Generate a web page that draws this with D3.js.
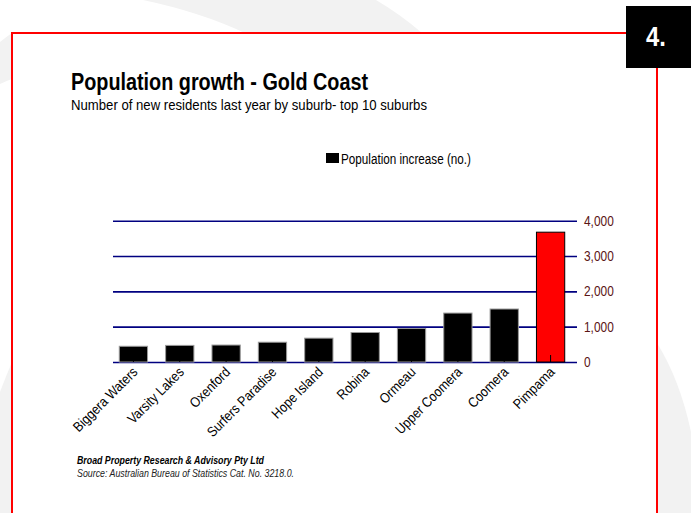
<!DOCTYPE html>
<html>
<head>
<meta charset="utf-8">
<script src="https://cdn.jsdelivr.net/npm/d3@7"></script>
<style>
  html, body { margin: 0; padding: 0; background: #fff; }
  svg { display: block; }
  text { font-family: "Liberation Sans Narrow", "Arial Narrow", "Liberation Sans", Arial, sans-serif; }
</style>
</head>
<body>
<svg id="chart" width="691" height="513"></svg>
<script>
const suburbs = ["Biggera Waters", "Varsity Lakes", "Oxenford", "Surfers Paradise", "Hope Island",
                 "Robina", "Ormeau", "Upper Coomera", "Coomera", "Pimpama"];
const populationIncrease = [445, 470, 480, 560, 675, 835, 950, 1385, 1500, 3675];
const yTicks = [0, 1000, 2000, 3000, 4000];
const highlight = "Pimpama";
const seriesName = "Population increase (no.)";
const titleText = "Population growth - Gold Coast";
const subtitleText = "Number of new residents last year by suburb- top 10 suburbs";
const footerBold = "Broad Property Research & Advisory Pty Ltd";
const footerSource = "Source: Australian Bureau of Statistics Cat. No. 3218.0.";
const pageNumber = "4.";

const svg = d3.select("#chart");

// decorative background swooshes
const bg = svg.append("g").attr("fill", "#f2f2f2");
bg.append("path").attr("d", "M143,0 Q200,12 245,33 L422,33 Q400,14 376,0 Z");
bg.append("path").attr("d", "M0,42 Q6,37 12,33 L12,79 Q6,81 0,84 Z");
bg.append("path").attr("d", "M0,392 Q6,376 12,362 L12,513 L0,513 Z");
bg.append("path").attr("d", "M657,343 Q680,380 691,432 L691,513 L657,513 Z");

// white panel and red frame
svg.append("rect").attr("x", 12).attr("y", 32).attr("width", 645).attr("height", 490).attr("fill", "#fff");
svg.append("path").attr("d", "M12,513 L12,33 L657,33 L657,513")
  .attr("fill", "none").attr("stroke", "#ff0000").attr("stroke-width", 2);

// page number box
svg.append("rect").attr("x", 626).attr("y", 6).attr("width", 65).attr("height", 62).attr("fill", "#000");
svg.append("text").attr("x", 656).attr("y", 46).attr("text-anchor", "middle")
  .attr("fill", "#fff").attr("font-weight", "bold").attr("font-size", 28)
  .attr("transform", "translate(656,0) scale(0.85,1) translate(-656,0)").text(pageNumber);

// titles
svg.append("text").attr("x", 71).attr("y", 90).attr("font-weight", "bold").attr("font-size", 23.5)
  .attr("textLength", 297).attr("lengthAdjust", "spacingAndGlyphs").text(titleText);
svg.append("text").attr("x", 71).attr("y", 110).attr("font-size", 14.5)
  .attr("textLength", 356).attr("lengthAdjust", "spacingAndGlyphs").text(subtitleText);

// legend
svg.append("rect").attr("x", 326).attr("y", 153).attr("width", 13).attr("height", 10).attr("fill", "#000");
svg.append("text").attr("x", 341).attr("y", 164).attr("font-size", 14)
  .attr("textLength", 130).attr("lengthAdjust", "spacingAndGlyphs").text(seriesName);

// scales
const x = d3.scaleBand().domain(suburbs).range([110, 574]).paddingInner(0.39).paddingOuter(0.2);
const y = d3.scaleLinear().domain([0, 4000]).range([362, 220.7]);

// gridlines + right axis
const yAxis = d3.axisRight(y).tickValues(yTicks).tickSize(-464).tickPadding(7)
  .tickFormat(d3.format(","));
const gy = svg.append("g").attr("transform", "translate(577,0)").call(yAxis);
gy.select(".domain").remove();
gy.selectAll(".tick line").attr("stroke", "#000080").attr("stroke-width", 1.6);
gy.selectAll(".tick text").attr("fill", "#5a1414").attr("font-size", 14)
  .attr("font-family", "\"Liberation Sans Narrow\", \"Arial Narrow\", \"Liberation Sans\", Arial, sans-serif")
  .attr("transform", "scale(0.85,1)").attr("x", 7 / 0.85 * 1);

// bars
const data = suburbs.map((s, i) => ({ name: s, value: populationIncrease[i] }));
svg.append("g").selectAll("rect").data(data).join("rect")
  .attr("x", d => x(d.name))
  .attr("y", d => y(d.value))
  .attr("width", x.bandwidth())
  .attr("height", d => y(0) - y(d.value))
  .attr("fill", d => d.name === highlight ? "#ff0000" : "#000")
  .attr("stroke", d => d.name === highlight ? "#000" : "#9a9a9a")
  .attr("stroke-width", 1);

// category ticks
svg.append("g").selectAll("line").data(suburbs).join("line")
  .attr("x1", d => x(d) + x.bandwidth() / 2).attr("x2", d => x(d) + x.bandwidth() / 2)
  .attr("y1", 355).attr("y2", 362).attr("stroke", "#000").attr("stroke-width", 1);

// x labels
svg.append("g").selectAll("text").data(suburbs).join("text")
  .attr("transform", d => `translate(${x(d) + x.bandwidth() / 2 + 5},${373}) rotate(-45) scale(0.88,1)`)
  .attr("text-anchor", "end").attr("font-size", 14).text(d => d);

// footer
svg.append("text").attr("x", 77).attr("y", 464).attr("font-size", 10.5).attr("font-weight", "bold")
  .attr("font-style", "italic").attr("textLength", 187).attr("lengthAdjust", "spacingAndGlyphs").text(footerBold);
svg.append("text").attr("x", 77).attr("y", 477).attr("font-size", 10.5).attr("font-style", "italic")
  .attr("fill", "#222").attr("textLength", 217).attr("lengthAdjust", "spacingAndGlyphs").text(footerSource);
</script>
</body>
</html>
